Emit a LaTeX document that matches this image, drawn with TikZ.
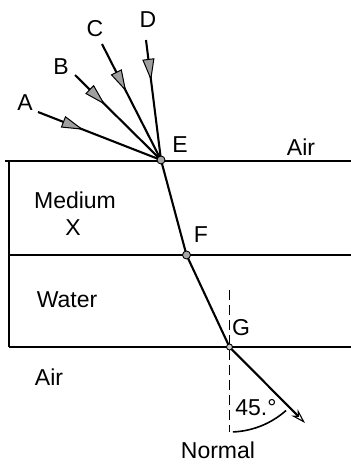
\documentclass[tikz,border=0pt]{standalone}
\usepackage{fontspec}
\setmainfont{Liberation Sans}
\usetikzlibrary{arrows.meta,decorations.markings}
\begin{document}
\begin{tikzpicture}[x=1pt,y=-1pt,
  lbl/.style={font=\fontsize{23}{26}\selectfont, inner sep=0pt, anchor=center},
  bnd/.style={line width=2.1pt},
  ray/.style={line width=2.1pt, postaction=decorate,
    decoration={markings, mark=at position #1 with {\arrow[line width=1pt]{Triangle[length=22pt,width=12pt,fill=gray!75]}}}},
  dot/.style={circle, fill=gray!70, draw=black, line width=0.9pt, inner sep=0pt, minimum size=8pt},
  gdot/.style={circle, fill=gray!40, draw=black, line width=0.9pt, inner sep=0pt, minimum size=6pt},
  normal/.style={line width=1.7pt, dash pattern=on 10pt off 5pt}]
\useasboundingbox (0,0) rectangle (351,464);
% interfaces
\coordinate (TL) at (5,161);
\coordinate (TR) at (351,161);
\coordinate (LT) at (9,161);
\coordinate (LB) at (9,347);
\coordinate (ML) at (9,255);
\coordinate (MR) at (351,255);
\coordinate (BR) at (351,347);
\draw[bnd] (TL) -- (TR);
\draw[bnd] (LT) -- (LB);
\draw[bnd] (ML) -- (MR);
\draw[bnd] (LB) -- (BR);
% points
\coordinate (E) at (161,160);
\coordinate (F) at (186.5,255);
\coordinate (G) at (229.5,347);
\coordinate (sA) at (38,112);
\coordinate (sB) at (75,75);
\coordinate (sC) at (102,44);
\coordinate (sD) at (146,40);
\coordinate (N1) at (229.5,290);
\coordinate (N2) at (229.5,432);
\coordinate (R) at (305,423);
% normal
\draw[normal] (N1) -- (N2);
% incident rays
\draw[ray=0.37] (sA) -- (E);
\draw[ray=0.35] (sB) -- (E);
\draw[ray=0.41] (sC) -- (E);
\draw[ray=0.34] (sD) -- (E);
% refracted path
\draw[line width=2.1pt] (E) -- (F) -- (G);
\draw[line width=2.1pt, -{Stealth[open,length=15pt,width=9pt,line width=1.1pt]}] (G) -- (R);
% angle arc
\draw[line width=1.6pt] (G) ++(87.7:85) arc[start angle=87.7, end angle=48.3, radius=85];
% point markers
\node[dot] (mE) at (E) {};
\node[dot] (mF) at (F) {};
\node[gdot] (mG) at (G) {};
% labels
\node[lbl] (lA) at (25,103) {A};
\node[lbl] (lB) at (61,67) {B};
\node[lbl] (lC) at (95,29) {C};
\node[lbl] (lD) at (148,20) {D};
\node[lbl] (lE) at (180,145) {E};
\node[lbl] (lF) at (201,235) {F};
\node[lbl] (lG) at (241,328) {G};
\node[lbl] (lAir1) at (301,147) {Air};
\node[lbl] (lMed) at (75,200) {Medium};
\node[lbl] (lX) at (73,228) {X};
\node[lbl] (lWat) at (67,300) {Water};
\node[lbl] (lAir2) at (49,377) {Air};
\node[lbl] (lAng) at (256,408) {45.°};
\node[lbl] (lNorm) at (218,450) {Normal};
\end{tikzpicture}
\end{document}
